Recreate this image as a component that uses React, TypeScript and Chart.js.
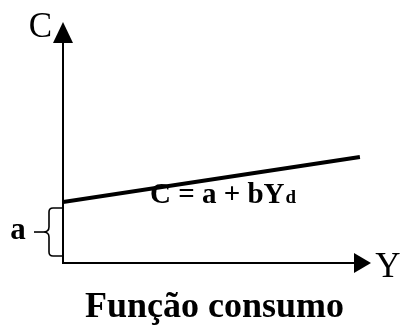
import React, { useEffect, useRef } from "react";
import { Chart, registerables } from "chart.js";

Chart.register(...registerables);

// Data: consumption function C = a + bYd (schematic values)
const incomeY = [0, 96.4];
const consumptionC = [25.3, 44.0];
const axisRange = [0, 100];
const axisLabels = ["C", "Y"];
const interceptLabel = "a";
const equationMain = "C = a + bY";
const equationSub = "d";
const titleText = "Função consumo";

const SERIF = "'Liberation Serif', 'Times New Roman', serif";

const econPlugin = {
  id: "econ",
  beforeDatasetsDraw(chart: any) {
    const { ctx, scales } = chart;
    const xs = scales.x;
    const ys = scales.y;
    const x0 = xs.getPixelForValue(axisRange[0]);
    const xMax = xs.getPixelForValue(axisRange[1]);
    const y0 = ys.getPixelForValue(axisRange[0]);
    const yMax = ys.getPixelForValue(axisRange[1]);
    ctx.save();
    ctx.strokeStyle = "#000";
    ctx.fillStyle = "#000";
    ctx.lineWidth = 2;
    // y axis
    ctx.beginPath();
    ctx.moveTo(x0, y0 + 1);
    ctx.lineTo(x0, yMax + 18);
    ctx.stroke();
    ctx.beginPath();
    ctx.moveTo(x0, yMax);
    ctx.lineTo(x0 - 10, yMax + 21);
    ctx.lineTo(x0 + 10, yMax + 21);
    ctx.closePath();
    ctx.fill();
    // x axis
    ctx.beginPath();
    ctx.moveTo(x0 - 1, y0);
    ctx.lineTo(xMax - 14, y0);
    ctx.stroke();
    ctx.beginPath();
    ctx.moveTo(xMax, y0);
    ctx.lineTo(xMax - 17, y0 - 10);
    ctx.lineTo(xMax - 17, y0 + 10);
    ctx.closePath();
    ctx.fill();
    ctx.restore();
  },
  afterDatasetsDraw(chart: any) {
    const { ctx, scales } = chart;
    const xs = scales.x;
    const ys = scales.y;
    const x0 = xs.getPixelForValue(axisRange[0]);
    const xMax = xs.getPixelForValue(axisRange[1]);
    const y0 = ys.getPixelForValue(axisRange[0]);
    const yMax = ys.getPixelForValue(axisRange[1]);
    const yA = ys.getPixelForValue(consumptionC[0]);
    ctx.save();
    ctx.fillStyle = "#000";
    ctx.strokeStyle = "#000";
    // Axis labels
    ctx.font = `35px ${SERIF}`;
    ctx.textAlign = "center";
    ctx.textBaseline = "alphabetic";
    ctx.fillText(axisLabels[0], x0 - 22.5, yMax + 15);
    ctx.fillText(axisLabels[1], xMax + 17, y0 + 14);

    // Brace for intercept a
    const top = yA + 6;
    const bot = y0 - 7;
    const mid = (top + bot) / 2;
    const bx = x0 - 14;
    ctx.lineWidth = 1.6;
    ctx.beginPath();
    ctx.moveTo(x0, top);
    ctx.lineTo(bx + 4, top);
    ctx.quadraticCurveTo(bx, top, bx, top + 4);
    ctx.lineTo(bx, mid - 5);
    ctx.quadraticCurveTo(bx, mid, bx - 6, mid);
    ctx.quadraticCurveTo(bx, mid, bx, mid + 5);
    ctx.lineTo(bx, bot - 4);
    ctx.quadraticCurveTo(bx, bot, bx + 4, bot);
    ctx.lineTo(x0, bot);
    ctx.stroke();
    ctx.beginPath();
    ctx.moveTo(bx - 6, mid);
    ctx.lineTo(bx - 15, mid);
    ctx.stroke();
    ctx.font = `bold 31px ${SERIF}`;
    ctx.textAlign = "center";
    ctx.fillText(interceptLabel, 18, mid + 7);

    // Equation label
    ctx.textAlign = "left";
    ctx.font = `bold 29px ${SERIF}`;
    const ex = 150;
    const ey = 203;
    ctx.fillText(equationMain, ex, ey);
    const w = ctx.measureText(equationMain).width;
    ctx.font = `bold 19px ${SERIF}`;
    ctx.fillText(equationSub, ex + w + 1, ey);

    // Title
    ctx.textAlign = "center";
    ctx.font = `bold 36px ${SERIF}`;
    ctx.fillText(titleText, 214.5, 317);
    ctx.restore();
  },
};

export default function App() {
  const ref = useRef<HTMLCanvasElement | null>(null);
  useEffect(() => {
    if (!ref.current) return;
    const chart = new Chart(ref.current, {
      type: "scatter",
      data: {
        datasets: [
          {
            data: incomeY.map((x, i) => ({ x, y: consumptionC[i] })),
            showLine: true,
            borderColor: "#000",
            borderWidth: 4,
            pointRadius: 0,
            borderCapStyle: "butt",
          },
        ],
      },
      options: {
        responsive: false,
        animation: false,
        layout: { padding: { left: 63, right: 30, top: 22, bottom: 62 } },
        plugins: { legend: { display: false }, tooltip: { enabled: false } },
        scales: {
          x: { type: "linear", min: axisRange[0], max: axisRange[1], display: false },
          y: { type: "linear", min: axisRange[0], max: axisRange[1], display: false },
        },
      },
      plugins: [econPlugin],
    });
    return () => chart.destroy();
  }, []);
  return (
    <canvas
      ref={ref}
      width={401}
      height={325}
      style={{ position: "absolute", left: 0, top: 0, width: 401, height: 325, background: "#fff" }}
    />
  );
}
